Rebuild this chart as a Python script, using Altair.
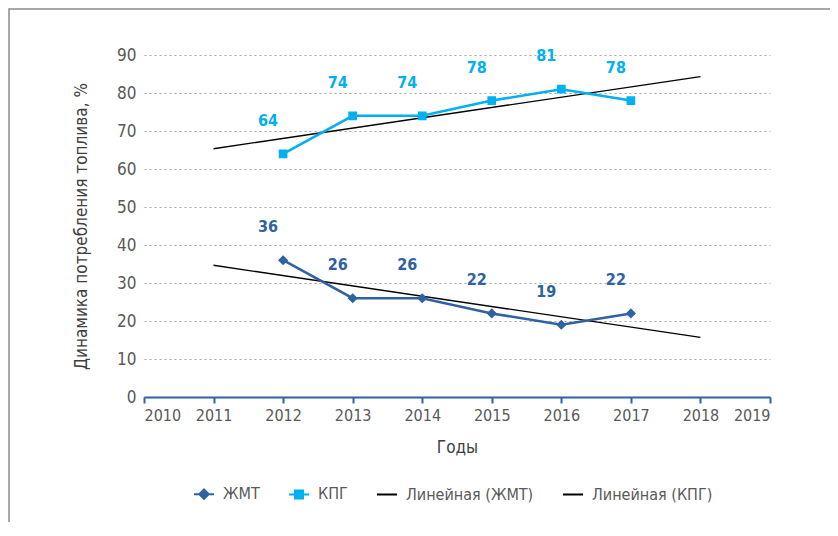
import altair as alt
import pandas as pd

years = [2012, 2013, 2014, 2015, 2016, 2017]
zhmt = [36, 26, 26, 22, 19, 22]
kpg = [64, 74, 74, 78, 81, 78]
series_names = ["ЖМТ", "КПГ", "Линейная (ЖМТ)", "Линейная (КПГ)"]
x_ticks = list(range(2010, 2020))
y_ticks = list(range(0, 100, 10))

C_ZHMT = "#2E62A1"
C_KPG = "#00B0F0"
GRAY = "#595959"
FONT = "Liberation Sans Narrow, DejaVu Sans Condensed, Roboto"

df = pd.DataFrame({
    "year": years * 2,
    "value": zhmt + kpg,
    "series": ["ЖМТ"] * len(years) + ["КПГ"] * len(years),
})

x = alt.X("year:Q", scale=alt.Scale(domain=[2010, 2019], nice=False, zero=False),
          axis=alt.Axis(values=x_ticks, format="d", title="Годы", grid=False,
                        domainColor=C_ZHMT, domainWidth=2, tickColor=C_ZHMT, tickWidth=2,
                        tickSize=6, labelPadding=4, labelFontSize=16, labelColor=GRAY,
                        labelFont=FONT, titleFont=FONT, titleFontSize=17, titleColor="#404040",
                        titleFontWeight="normal", titlePadding=16))
y = alt.Y("value:Q", scale=alt.Scale(domain=[0, 90], nice=False),
          axis=alt.Axis(values=y_ticks, title="Динамика потребления топлива, %", grid=True,
                        gridDash=[2, 3], gridColor="#A6A6A6", gridWidth=1.2, domain=False,
                        ticks=False, labelPadding=8, labelFontSize=17, labelColor=GRAY,
                        labelFont=FONT, titleFont=FONT, titleFontSize=17, titleColor="#404040",
                        titleFontWeight="normal", titlePadding=26))

base = alt.Chart(df)

border = alt.Chart(pd.DataFrame({"a": [0]})).mark_rect(
    fill="white", fillOpacity=0, stroke="#8C8C8C", strokeWidth=1.5
).encode(x=alt.value(-135), x2=alt.value(900), y=alt.value(-46), y2=alt.value(700))

trend = base.transform_regression(
    "year", "value", groupby=["series"], extent=[2011, 2018]
).mark_line(color="black", strokeWidth=1.3).encode(x=x, y=y, detail="series:N")

line_z = base.transform_filter(alt.datum.series == "ЖМТ").mark_line(
    color=C_ZHMT, strokeWidth=2.5).encode(x=x, y=y)
line_k = base.transform_filter(alt.datum.series == "КПГ").mark_line(
    color=C_KPG, strokeWidth=2.5).encode(x=x, y=y)

paths = [
    "M-1.5,0H1.5M0,-0.7L0.7,0L0,0.7L-0.7,0Z",
    "M-1.5,0H1.5M-0.6,-0.6H0.6V0.6H-0.6Z",
    "M-1.5,0H1.5",
    "M-1.5,0H1.5",
]
fills = [C_ZHMT, C_KPG, "black", "black"]

leg = alt.Legend(title=None, orient="none", legendX=52, legendY=431, direction="horizontal",
                 labelFont=FONT, labelFontSize=16, labelColor=GRAY, symbolStrokeWidth=2,
                 symbolSize=180, labelOffset=11, columnPadding=24)

points = base.mark_point(filled=True, opacity=1, size=210, strokeWidth=0).encode(
    x=x, y=y,
    fill=alt.Fill("series:N", scale=alt.Scale(domain=series_names, range=fills), legend=leg),
    stroke=alt.Stroke("series:N", scale=alt.Scale(domain=series_names, range=fills), legend=leg),
    shape=alt.Shape("series:N", scale=alt.Scale(domain=series_names, range=paths), legend=leg),
)

labels = base.mark_text(font=FONT, fontSize=16, fontWeight="bold", dx=-15, dy=-33).encode(
    x=x, y=y, text=alt.Text("value:Q"),
    color=alt.Color("series:N", scale=alt.Scale(domain=["ЖМТ", "КПГ"], range=[C_ZHMT, C_KPG]),
                    legend=None),
)

chart = alt.layer(border, trend, line_z, line_k, points, labels).properties(
    width=626, height=342,
    autosize=alt.AutoSizeParams(type="none"),
    padding={"left": 136, "top": 47, "right": 60, "bottom": 125},
).configure_view(stroke=None).resolve_scale(color="independent")

chart.save("out.html", embed_options={"renderer": "svg", "actions": False})
